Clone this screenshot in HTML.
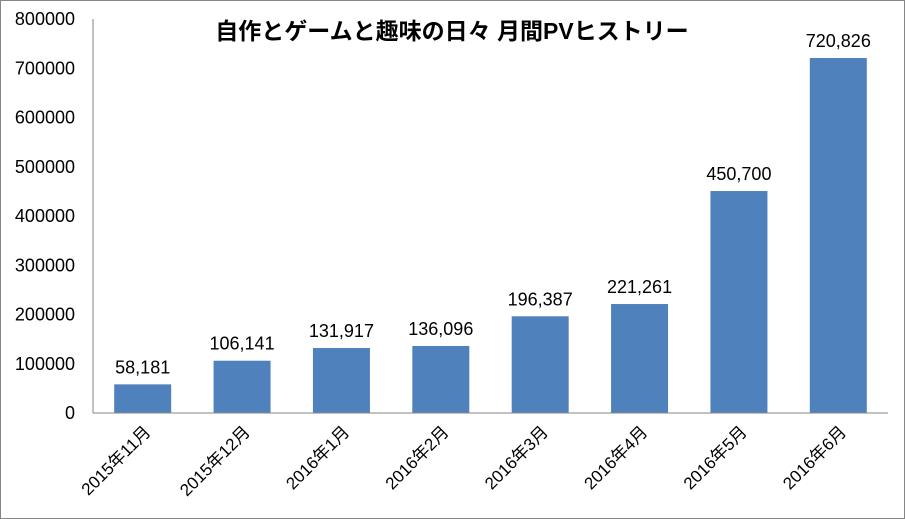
<!DOCTYPE html>
<html><head><meta charset="utf-8"><style>
body{margin:0;background:#fff}
svg{display:block;font-family:"Liberation Sans","Noto Sans CJK JP",sans-serif}
</style></head><body>
<svg id="c" width="905" height="519">
<rect x="0.5" y="0.5" width="904" height="518" fill="#fff" stroke="#868686"/>
<text x="452" y="39" text-anchor="middle" font-size="23" font-weight="bold" fill="#000">自作とゲームと趣味の日々  月間PVヒストリー</text>
<g id="plot"></g>
</svg>
<script>
const categories=["2015年11月","2015年12月","2016年1月","2016年2月","2016年3月","2016年4月","2016年5月","2016年6月"];
const values=[58181,106141,131917,136096,196387,221261,450700,720826];
const yTicks=[0,100000,200000,300000,400000,500000,600000,700000,800000];
const NS="http://www.w3.org/2000/svg";
const g=document.getElementById('plot');
const x0=93,x1=888,y0=413,y1=19,yMax=800000;
const y=v=>y0-(y0-y1)*v/yMax;
const step=(x1-x0)/categories.length;
const xc=i=>x0+step*(i+0.5);
function mk(t,a,txt){const e=document.createElementNS(NS,t);for(const k in a)e.setAttribute(k,a[k]);if(txt!==undefined)e.textContent=txt;g.appendChild(e);return e;}
yTicks.forEach(t=>{
 const e=mk('text',{x:75,y:y(t)+6,'text-anchor':'end','font-size':18,fill:'#000'},String(t));
 
 
});
values.forEach((v,i)=>{
 const bw=57;
 const r=mk('rect',{x:xc(i)-bw/2,y:y(v),width:bw,height:y0-y(v),fill:'#4f81bd'});
 
 
 const l=mk('text',{x:xc(i),y:y(v)-11,'text-anchor':'middle','font-size':18,fill:'#000'},v.toLocaleString('en-US'));
 
 
 const c=mk('text',{x:0,y:0,'text-anchor':'end','font-size':17,fill:'#000',transform:`translate(${xc(i)+9},${y0+20}) rotate(-45)`},categories[i]);
 
 
});
const ax=mk('line',{x1:x0,y1:y0,x2:x1,y2:y0,stroke:'#868686','stroke-width':1});


const ay=mk('line',{x1:x0,y1:y1,x2:x0,y2:y0,stroke:'#868686','stroke-width':1});


</script>
</body></html>
